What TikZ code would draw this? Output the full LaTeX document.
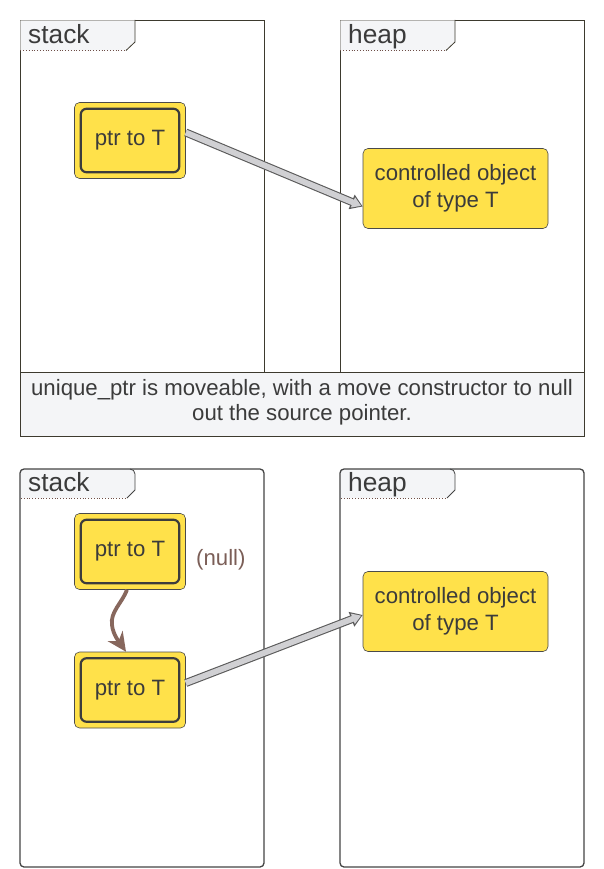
\documentclass[tikz,border=0pt]{standalone}
\usepackage{fontspec}
\setmainfont{Liberation Sans}
\usetikzlibrary{arrows.meta,calc}
\definecolor{ptryellow}{HTML}{FFE14A}
\definecolor{boxedge}{HTML}{4A4A4A}
\definecolor{inneredge}{HTML}{3C3C3C}
\definecolor{textcol}{HTML}{3B3B3B}
\definecolor{topline}{HTML}{3D3A2E}
\definecolor{botline}{HTML}{444444}
\definecolor{tabfill}{HTML}{F4F5F7}
\definecolor{tabdot}{HTML}{6E4E46}
\definecolor{arrowfill}{HTML}{D0D0D3}
\definecolor{arrowedge}{HTML}{5A5A5A}
\definecolor{brownarrow}{HTML}{87675D}
\definecolor{nulltext}{HTML}{7B5E57}
\begin{document}
\begin{tikzpicture}[x=1pt,y=-1pt,
  txt/.style={text=textcol, font=\fontsize{22.2}{27.5}\selectfont},
  titletxt/.style={text=textcol, font=\fontsize{26.3}{30}\selectfont, inner sep=0pt},
  ptrbox/.style={draw=boxedge, line width=0.6pt, fill=ptryellow, rounded corners=5pt,
    minimum width=111pt, minimum height=76pt, inner sep=0pt, txt},
  objbox/.style={draw=boxedge, line width=0.6pt, fill=ptryellow, rounded corners=5pt,
    minimum width=185pt, minimum height=80pt, inner sep=0pt, align=center, txt},
  innerbox/.style={draw=inneredge, line width=2.2pt, rounded corners=6pt},
  topframe/.style={draw=topline, line width=0.8pt},
  botframe/.style={draw=botline, line width=1.3pt, rounded corners=4pt},
  tabshape/.style={fill=tabfill},
  tabdots/.style={draw=tabdot, line width=0.8pt, dotted},
  grayedge/.style={draw=arrowedge, line width=8pt, -{Triangle[length=12pt,width=15pt]}},
  grayfill/.style={draw=arrowfill, line width=5.8pt, -{Triangle[length=9pt,width=10.5pt]}, shorten >=1.6pt},
  movearrow/.style={draw=brownarrow, line width=3.8pt, -{Stealth[length=19pt,width=18pt,inset=6pt]}}
]
\useasboundingbox (0,0) rectangle (603,869);

% ---------- top part ----------
\fill[tabfill] (20,372) rectangle (584,436);
\draw[topframe] (20,20) rectangle (264,372);
\draw[topframe] (340,20) rectangle (584,372);
\draw[topframe] (20,372) rectangle (584,436);
% tabs
\fill[tabshape] (20.4,20.4) -- (135,20.4) -- (135,42) -- (126,50.5) -- (20.4,50.5) -- cycle;
\draw[topframe] (135,20) -- (135,42) -- (126,50.5);
\draw[tabdots] (20.4,50.5) -- (126,50.5);
\node[titletxt, anchor=base west] (st1) at (28,43.5) {stack};
\fill[tabshape] (340.4,20.4) -- (455,20.4) -- (455,42) -- (446,50.5) -- (340.4,50.5) -- cycle;
\draw[topframe] (455,20) -- (455,42) -- (446,50.5);
\draw[tabdots] (340.4,50.5) -- (446,50.5);
\node[titletxt, anchor=base west] (hp1) at (348,43.5) {heap};

\node[ptrbox] (p1) at (130,140.5) {ptr to T};
\draw[innerbox] ([shift={(6.5pt,-6.5pt)}]p1.north west) rectangle ([shift={(-6.5pt,6.5pt)}]p1.south east);
\node[objbox] (o1) at (455.5,188.5) {controlled object\\of type T};

\draw[grayedge] ([yshift=8pt]p1.east) -- ([yshift=-18pt]o1.west);
\draw[grayfill] ([yshift=8pt]p1.east) -- ([yshift=-18pt]o1.west);

\node[txt, align=center, font=\fontsize{22.2}{25.5}\selectfont] (note) at (302,402.5)
  {unique\_ptr is moveable, with a move constructor to null\\out the source pointer.};

% ---------- bottom part ----------
\begin{scope}
\clip[rounded corners=4pt] (20,469) rectangle (264,867);
\fill[tabshape] (20,469) -- (130,469) to[out=0,in=90] (135,474) -- (135,490) -- (127,498) -- (20,498) -- cycle;
\end{scope}
\draw[botline, line width=0.8pt] (130,469) to[out=0,in=90] (135,474) -- (135,490) -- (127,498);
\draw[tabdots] (21,498) -- (127,498);
\begin{scope}
\clip[rounded corners=4pt] (340,469) rectangle (584,867);
\fill[tabshape] (340,469) -- (450,469) to[out=0,in=90] (455,474) -- (455,490) -- (447,498) -- (340,498) -- cycle;
\end{scope}
\draw[botline, line width=0.8pt] (450,469) to[out=0,in=90] (455,474) -- (455,490) -- (447,498);
\draw[tabdots] (341,498) -- (447,498);
\draw[botframe] (20,469) rectangle (264,867);
\draw[botframe] (340,469) rectangle (584,867);
\node[titletxt, anchor=base west] (st2) at (28,491.5) {stack};
\node[titletxt, anchor=base west] (hp2) at (348,491.5) {heap};

\node[ptrbox] (p2) at (130,551.5) {ptr to T};
\draw[innerbox] ([shift={(6.5pt,-6.5pt)}]p2.north west) rectangle ([shift={(-6.5pt,6.5pt)}]p2.south east);
\node[ptrbox] (p3) at (130,690) {ptr to T};
\draw[innerbox] ([shift={(6.5pt,-6.5pt)}]p3.north west) rectangle ([shift={(-6.5pt,6.5pt)}]p3.south east);
\node[txt, text=nulltext, anchor=west, inner sep=0pt] (null) at (196,560) {(null)};
\node[objbox] (o2) at (455.5,611.5) {controlled object\\of type T};

\draw[movearrow] ([xshift=-3pt]p2.south) .. controls (122,603) and (110,612) .. (112,625)
  .. controls (113,635) and (120,643) .. ([xshift=-4pt]p3.north);

\draw[grayedge] ([yshift=7pt]p3.east) -- ([yshift=-3.5pt]o2.west);
\draw[grayfill] ([yshift=7pt]p3.east) -- ([yshift=-3.5pt]o2.west);
\end{tikzpicture}
\end{document}
